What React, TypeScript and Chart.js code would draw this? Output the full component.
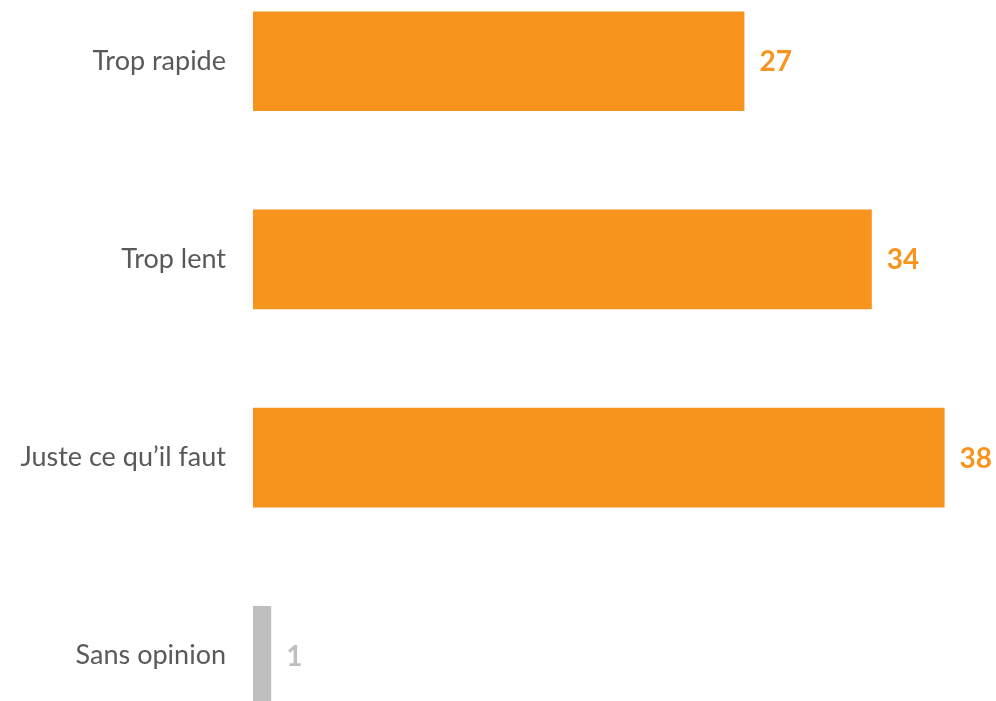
import React, { useEffect, useRef } from "react";
import { Chart, registerables } from "chart.js";

Chart.register(...registerables);

const categories = ["Trop rapide", "Trop lent", "Juste ce qu\u2019il faut", "Sans opinion"];
const values = [27, 34, 38, 1];
const barColors = ["#F7941D", "#F7941D", "#F7941D", "#BFBFBF"];
const labelColors = ["#F7941D", "#F7941D", "#F7941D", "#BFBFBF"];

const FONT = "Lato, 'Open Sans', sans-serif";

const valueLabels = {
  id: "valueLabels",
  afterDatasetsDraw(chart: any) {
    const ctx = chart.ctx;
    const meta = chart.getDatasetMeta(0);
    ctx.save();
    ctx.font = `bold 28px ${FONT}`;
    ctx.textAlign = "left";
    ctx.textBaseline = "middle";
    meta.data.forEach((bar: any, i: number) => {
      ctx.fillStyle = labelColors[i];
      ctx.fillText(String(values[i]), bar.x + 15, bar.y + 1);
    });
    ctx.restore();
  },
};

export default function App() {
  const ref = useRef<HTMLCanvasElement>(null);
  useEffect(() => {
    document.body.style.margin = "0";
    const chart = new Chart(ref.current!, {
      type: "bar",
      data: {
        labels: categories,
        datasets: [
          {
            data: values,
            backgroundColor: barColors,
            barPercentage: 0.503,
            categoryPercentage: 1,
          },
        ],
      },
      options: {
        indexAxis: "y",
        animation: false,
        responsive: false,
        maintainAspectRatio: false,
        layout: { padding: { left: 0, right: 15, top: 0, bottom: 0 } },
        plugins: { legend: { display: false }, tooltip: { enabled: false } },
        scales: {
          x: {
            display: false,
            min: 0,
            max: 40,
          },
          y: {
            grid: { display: false, drawTicks: false },
            border: { display: false },
            ticks: {
              color: "#595959",
              font: { family: FONT, size: 27 },
              padding: 27,
            },
            afterFit(scale: any) {
              scale.width = 253;
            },
          },
        },
      },
      plugins: [valueLabels],
    });
    return () => chart.destroy();
  }, []);
  return (
    <div style={{ position: "relative", width: 996, height: 701, overflow: "hidden" }}>
      <div style={{ position: "absolute", left: 0, top: -81, width: 996, height: 879 }}>
        <canvas ref={ref} width={996} height={879} style={{ width: 996, height: 879 }} />
      </div>
    </div>
  );
}
